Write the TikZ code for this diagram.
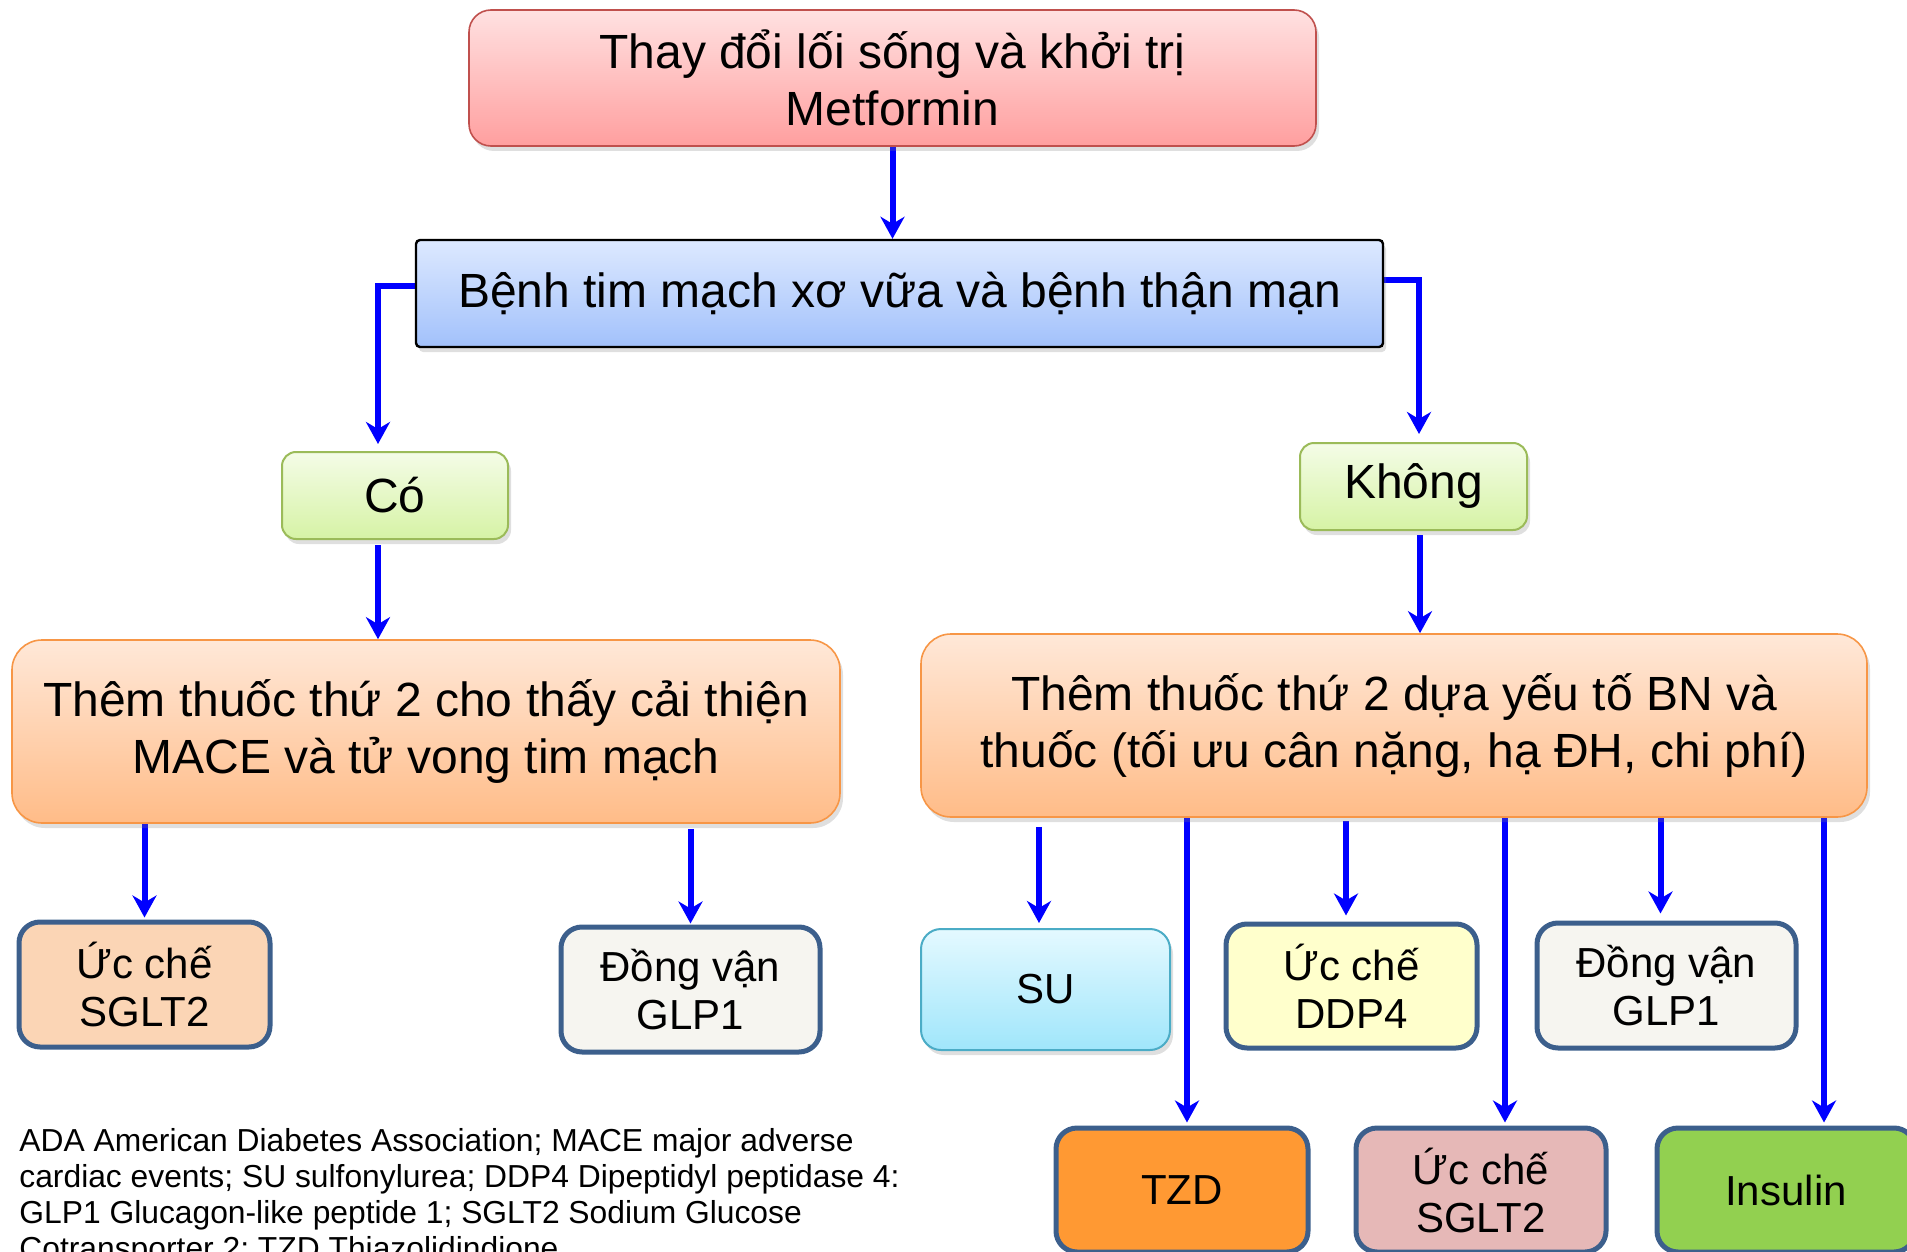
\documentclass[tikz,border=0pt]{standalone}
\usepackage{fontspec}
\setmainfont{Liberation Sans}
\usetikzlibrary{arrows.meta,shadows,backgrounds}
\definecolor{arrblue}{HTML}{0000FF}
\definecolor{toptop}{HTML}{FFE1E1}
\definecolor{topbot}{HTML}{FF9F9F}
\definecolor{topdraw}{HTML}{C0504D}
\definecolor{bluetop}{HTML}{DDE9FF}
\definecolor{bluebot}{HTML}{A2C1FB}
\definecolor{greentop}{HTML}{F4FCE7}
\definecolor{greenbot}{HTML}{D6F3A5}
\definecolor{greendraw}{HTML}{9BBB59}
\definecolor{orangetop}{HTML}{FFE8D8}
\definecolor{orangebot}{HTML}{FFBC88}
\definecolor{orangedraw}{HTML}{F79646}
\definecolor{sutop}{HTML}{E4F9FF}
\definecolor{subot}{HTML}{A0E6FB}
\definecolor{sudraw}{HTML}{4BACC6}
\definecolor{darkborder}{HTML}{3C5F8C}
\definecolor{peach}{HTML}{FBD5B5}
\definecolor{offwhite}{HTML}{F6F5F0}
\definecolor{lightyellow}{HTML}{FFFFCC}
\definecolor{tzdorange}{HTML}{FF9933}
\definecolor{pinkbox}{HTML}{E6B8B7}
\definecolor{insgreen}{HTML}{92D050}
\begin{document}
\begin{tikzpicture}[x=0.5pt,y=-0.5pt,
  shadowed/.style={drop shadow={shadow xshift=1.5pt,shadow yshift=-2.5pt,opacity=0.25}},
  bigbox/.style={align=center,inner sep=0pt,text=black,font=\fontsize{24}{28.5}\selectfont},
  topbox/.style={bigbox,rounded corners=11pt,draw=topdraw,line width=0.8pt,top color=toptop,bottom color=topbot,shadowed},
  bluebox/.style={bigbox,rounded corners=2pt,draw=black,line width=1.2pt,top color=bluetop,bottom color=bluebot,shadowed},
  greenbox/.style={bigbox,rounded corners=7pt,draw=greendraw,line width=1pt,top color=greentop,bottom color=greenbot,shadowed},
  orangebox/.style={bigbox,rounded corners=15pt,draw=orangedraw,line width=0.8pt,top color=orangetop,bottom color=orangebot,shadowed},
  smallbox/.style={align=center,inner sep=0pt,text=black,font=\fontsize{21}{24}\selectfont,rounded corners=10.5pt,draw=darkborder,line width=2.5pt},
  subox/.style={align=center,inner sep=0pt,text=black,font=\fontsize{21}{24}\selectfont,rounded corners=10pt,draw=sudraw,line width=1pt,top color=sutop,bottom color=subot,shadowed},
  arr/.style={draw=arrblue,line width=3pt,-{Stealth[length=11pt,width=12pt,inset=3.5pt]}}
]
\useasboundingbox (0,0) rectangle (1907,1252);

\node[topbox,minimum width=423.5pt,minimum height=68pt] (top) at (892.5,78) {Thay đổi lối sống và khởi trị\\Metformin};
\node[bluebox,minimum width=483.5pt,minimum height=53.5pt] (blue) at (899.5,293.5) {Bệnh tim mạch xơ vữa và bệnh thận mạn};
\node[greenbox,minimum width=113pt,minimum height=43.5pt] (co) at (395,495.5) {Có};
\node[greenbox,minimum width=113.5pt,minimum height=43.5pt] (khong) at (1413.5,486.5) {Không};
\node[orangebox,minimum width=414pt,minimum height=91.5pt] (oleft) at (426,731.5) {Thêm thuốc thứ 2 cho thấy cải thiện\\MACE và tử vong tim mạch};
\node[orangebox,minimum width=473pt,minimum height=91.5pt] (oright) at (1394,725.5) {Thêm thuốc thứ 2 dựa yếu tố BN và\\thuốc (tối ưu cân nặng, hạ ĐH, chi phí)};

\node[smallbox,fill=peach,minimum width=125.5pt,minimum height=62.5pt] (sgltL) at (144.5,984.5) {Ức chế\\SGLT2};
\node[smallbox,fill=offwhite,minimum width=129.5pt,minimum height=62.5pt] (glpL) at (690.5,989.5) {Đồng vận\\GLP1};
\node[subox,minimum width=124.5pt,minimum height=60.5pt] (su) at (1045.5,989.5) {SU};
\node[smallbox,fill=lightyellow,minimum width=125.5pt,minimum height=62pt] (ddp) at (1351.5,986) {Ức chế\\DDP4};
\node[smallbox,fill=offwhite,minimum width=129.5pt,minimum height=62.5pt] (glpR) at (1666.5,985.5) {Đồng vận\\GLP1};
\node[smallbox,fill=tzdorange,minimum width=126pt,minimum height=62pt] (tzd) at (1182,1190) {TZD};
\node[smallbox,fill=pinkbox,minimum width=125pt,minimum height=62pt] (sgltR) at (1481,1190) {Ức chế\\SGLT2};
\node[smallbox,fill=insgreen,minimum width=129pt,minimum height=62pt] (ins) at (1786,1190) {Insulin};

\node[anchor=north west,inner sep=0pt,align=left,text=black,font=\fontsize{15.9}{18}\selectfont] (note) at (19,1128) {ADA American Diabetes Association; MACE major adverse\\cardiac events; SU sulfonylurea; DDP4 Dipeptidyl peptidase 4:\\GLP1 Glucagon-like peptide 1; SGLT2 Sodium Glucose\\Cotransporter 2; TZD Thiazolidindione};

\coordinate (coA) at ([xshift=-8.5pt]co.south);
\coordinate (khA) at ([xshift=3.25pt]khong.south);
\coordinate (suA) at ([xshift=-3.25pt]su.north);
\coordinate (tzdA) at ([xshift=2.5pt]tzd.north);
\coordinate (ddpA) at ([xshift=-2.75pt]ddp.north);
\coordinate (sgA) at ([xshift=12pt]sgltR.north);
\coordinate (glpA) at ([xshift=-3pt]glpR.north);
\coordinate (insA) at ([xshift=19pt]ins.north);

\begin{scope}[on background layer]
\draw[arr] (top.south) -- (top.south |- blue.north);
\draw[arr,shorten >=3.5pt] ([yshift=3.75pt]blue.west) -| ([xshift=-8.5pt]co.north);
\draw[arr,shorten >=4pt] ([yshift=6.75pt]blue.east) -| ([xshift=2.75pt]khong.north);
\draw[arr,shorten <=2.5pt] (coA) -- (coA |- oleft.north);
\draw[arr,shorten <=2pt] (khA) -- (khA |- oright.north);
\draw[arr,shorten >=1pt] (sgltL.north |- oleft.south) -- (sgltL.north);
\draw[arr,shorten <=2.5pt,shorten >=0.5pt] (glpL.north |- oleft.south) -- (glpL.north);
\draw[arr,shorten <=4.5pt,shorten >=2.5pt] (suA |- oright.south) -- (suA);
\draw[arr,shorten >=1.5pt] (tzdA |- oright.south) -- (tzdA);
\draw[arr,shorten <=1.5pt,shorten >=3pt] (ddpA |- oright.south) -- (ddpA);
\draw[arr,shorten >=1.5pt] (sgA |- oright.south) -- (sgA);
\draw[arr,shorten >=3.5pt] (glpA |- oright.south) -- (glpA);
\draw[arr,shorten >=1.5pt] (insA |- oright.south) -- (insA);
\end{scope}
\end{tikzpicture}
\end{document}
